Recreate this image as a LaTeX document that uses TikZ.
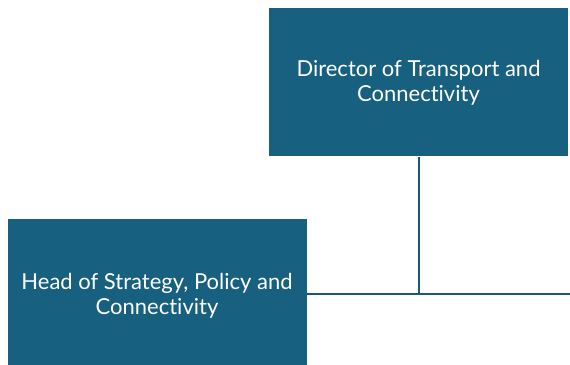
\documentclass[tikz,border=0pt]{standalone}
\usepackage{fontspec}
\setmainfont{Lato}[Ligatures=NoCommon]
\usepackage{tikz}

\definecolor{boxblue}{RGB}{23,96,128}
\definecolor{lineblue}{RGB}{26,88,118}

\tikzset{
	role/.style={fill=boxblue, text=white, minimum width=299pt, minimum height=148pt,
		align=center, inner sep=0pt, font=\fontsize{22}{25}\selectfont},
	link/.style={draw=lineblue, line width=2pt}
}

\begin{document}
\begin{tikzpicture}[x=1pt, y=1pt]
		\useasboundingbox (0,0) rectangle (570,364);
		% boxes
		\node[role] (director) at (418.5,281.5) {Director of Transport and\\Connectivity};
		\node[role, minimum height=153pt] (head) at (157,68.5) {Head of Strategy, Policy and\\Connectivity};
		% connectors
		\coordinate (junction) at (418.5,69.5);
		\coordinate (offright) at (570,69.5);
		\draw[link] (director.south) -- (junction);
		\draw[link] (head.east |- junction) -- (junction) -- (offright);
	\end{tikzpicture}
\end{document}
